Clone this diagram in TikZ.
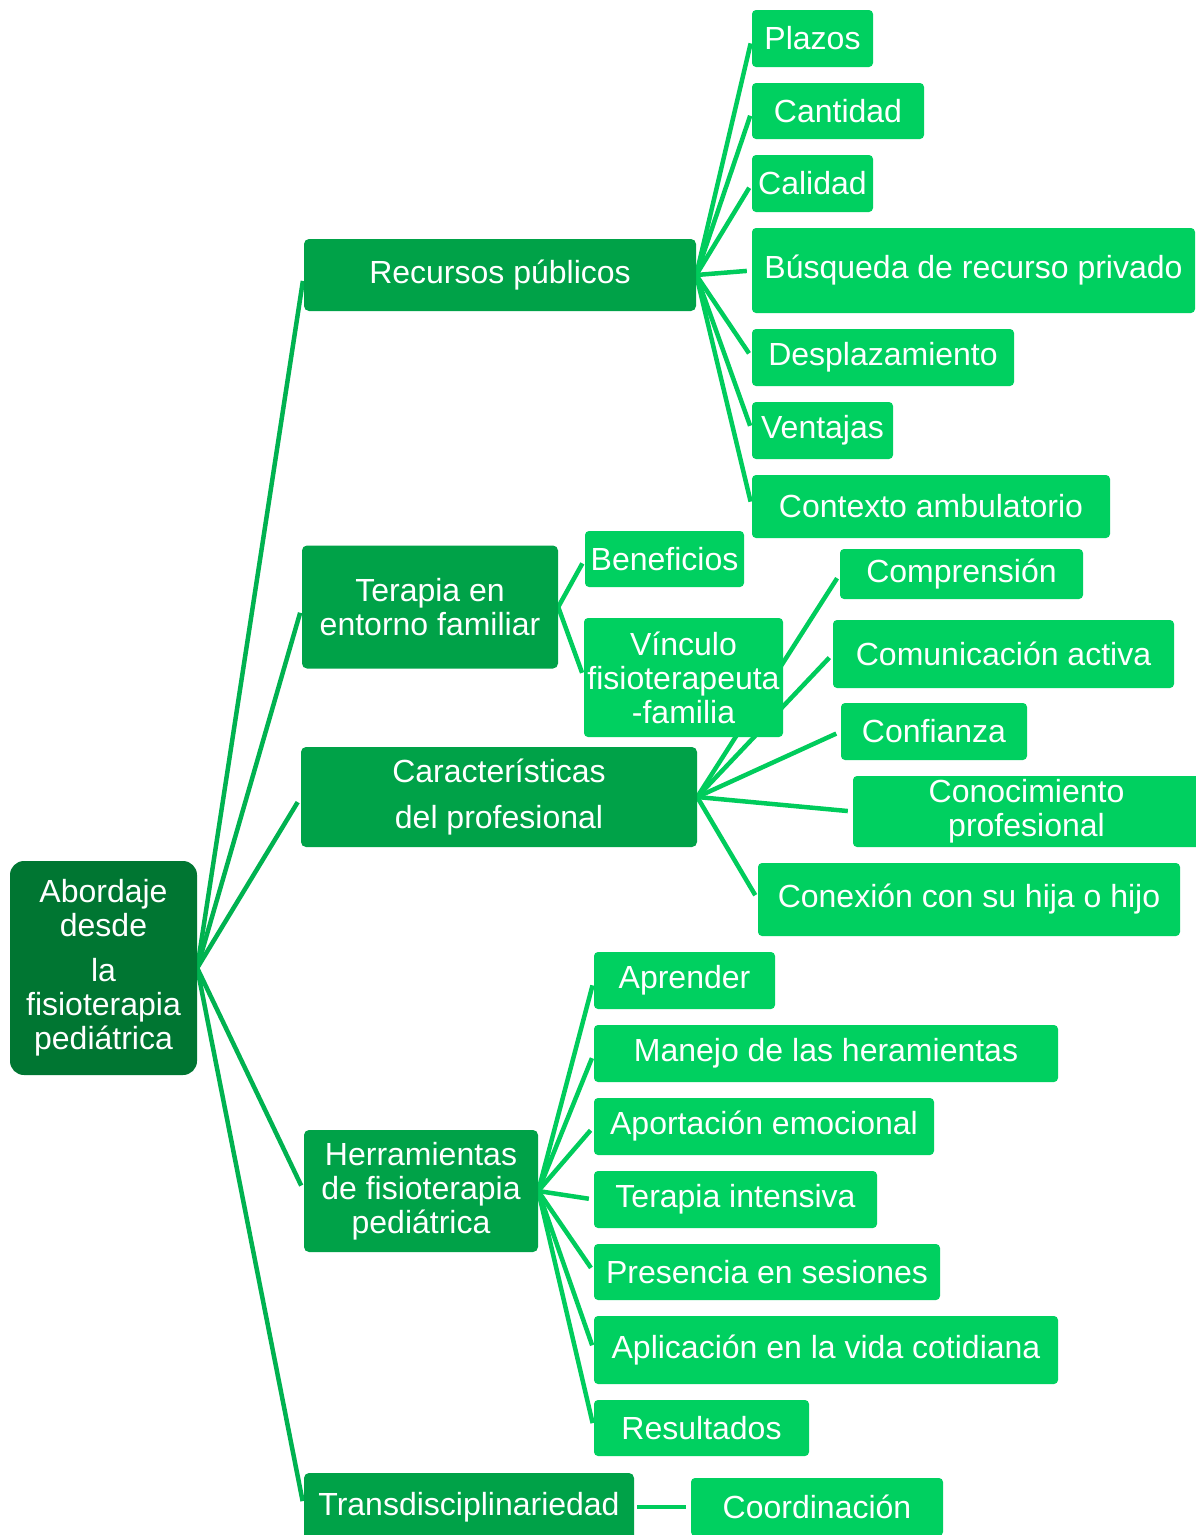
\documentclass[tikz,border=0pt]{standalone}
\usepackage{fontspec}
\setmainfont{Liberation Sans}
\usetikzlibrary{backgrounds}

\definecolor{verdeRaiz}{RGB}{0,118,50}
\definecolor{verdeTema}{RGB}{0,162,72}
\definecolor{verdeSub}{RGB}{0,208,96}
\definecolor{verdeLinea}{RGB}{0,178,80}
\definecolor{verdeRama}{RGB}{0,204,92}

\tikzset{
  raiz/.style={fill=verdeRaiz, text=white, rounded corners=14pt, align=center,
    inner sep=0pt, font=\fontsize{32}{34}\selectfont},
  tema/.style={fill=verdeTema, text=white, rounded corners=5pt, align=center,
    inner sep=0pt, font=\fontsize{32}{34}\selectfont},
  sub/.style={fill=verdeSub, text=white, rounded corners=4pt, align=center,
    inner sep=0pt, font=\fontsize{32}{34}\selectfont},
  rama/.style={draw=verdeLinea, line width=4.5pt, shorten >=6pt},
  ramita/.style={draw=verdeRama, line width=4.5pt, shorten >=5pt},
}

\begin{document}
\begin{tikzpicture}[x=1pt, y=-1pt]
  \useasboundingbox (0,0) rectangle (1195,1535);

  % --- raiz ---
  \node[raiz, minimum width=187, minimum height=214] (raiz) at (103.5,968)
    {Abordaje\\desde\\[11pt]la\\fisioterapia\\pediátrica};

  % --- temas ---
  \node[tema, minimum width=392, minimum height=72] (recursos) at (500,275) {Recursos públicos};
  \node[tema, minimum width=256, minimum height=123] (terapia) at (430,607) {Terapia en\\entorno familiar};
  \node[tema, minimum width=396, minimum height=100] (caract) at (499,797) {Características\\[12pt]del profesional};
  \node[tema, minimum width=234, minimum height=122] (herram) at (421,1191) {Herramientas\\de fisioterapia\\pediátrica};
  \node[tema, minimum width=330, minimum height=68] (transd) at (469,1507) {Transdisciplinariedad};

  % --- Recursos públicos ---
  \node[sub, minimum width=121, minimum height=57] (plazos) at (812.5,38.5) {Plazos};
  \node[sub, minimum width=172, minimum height=56] (cantidad) at (838,111) {Cantidad};
  \node[sub, minimum width=121, minimum height=57] (calidad) at (812.5,183.5) {Calidad};
  \node[sub, minimum width=443, minimum height=85] (busqueda) at (973.5,270.5) {Búsqueda de recurso privado};
  \node[sub, minimum width=262, minimum height=57] (desplaz) at (883,357.5) {Desplazamiento};
  \node[sub, minimum width=141, minimum height=57] (ventajas) at (822.5,430.5) {Ventajas};
  \node[sub, minimum width=358, minimum height=63] (contexto) at (931,506.5) {Contexto ambulatorio};

  % --- Terapia en entorno familiar ---
  \node[sub, minimum width=159, minimum height=56] (beneficios) at (664.5,559) {Beneficios};
  \node[sub, minimum width=199, minimum height=119] (vinculo) at (683.5,677.5) {Vínculo\\fisioterapeuta\\-familia};

  % --- Características del profesional ---
  \node[sub, minimum width=243, minimum height=50] (compren) at (961.5,574) {Comprensión};
  \node[sub, minimum width=341, minimum height=68] (comunic) at (1003.5,654) {Comunicación activa};
  \node[sub, minimum width=186, minimum height=57] (confianza) at (934,731.5) {Confianza};
  \node[sub, minimum width=347, minimum height=71] (conocim) at (1026.5,811.5) {Conocimiento\\profesional};
  \node[sub, minimum width=422, minimum height=73] (conexion) at (969,899.5) {Conexión con su hija o hijo};

  % --- Herramientas de fisioterapia pediátrica ---
  \node[sub, minimum width=181, minimum height=57] (aprender) at (684.5,980.5) {Aprender};
  \node[sub, minimum width=464, minimum height=57] (manejo) at (826,1053.5) {Manejo de las heramientas};
  \node[sub, minimum width=340, minimum height=57] (aportacion) at (764,1126.5) {Aportación emocional};
  \node[sub, minimum width=283, minimum height=57] (intensiva) at (735.5,1199.5) {Terapia intensiva};
  \node[sub, minimum width=346, minimum height=56] (presencia) at (767,1272) {Presencia en sesiones};
  \node[sub, minimum width=464, minimum height=68] (aplicacion) at (826,1350) {Aplicación en la vida cotidiana};
  \node[sub, minimum width=215, minimum height=56] (resultados) at (701.5,1428) {Resultados};

  % --- Transdisciplinariedad ---
  \node[sub, minimum width=252, minimum height=58] (coord) at (817,1507) {Coordinación};

  % --- ramas (detras de las cajas) ---
  \begin{scope}[on background layer]
    \draw[rama] (raiz.east) -- (recursos.west);
    \draw[rama] (raiz.east) -- (terapia.west);
    \draw[rama] (raiz.east) -- (caract.west);
    \draw[rama] (raiz.east) -- (herram.west);
    \draw[rama] (raiz.east) -- (transd.west);

    \draw[ramita] (recursos.east) -- (plazos.west);
    \draw[ramita] (recursos.east) -- (cantidad.west);
    \draw[ramita] (recursos.east) -- (calidad.west);
    \draw[ramita] (recursos.east) -- (busqueda.west);
    \draw[ramita] (recursos.east) -- (desplaz.west);
    \draw[ramita] (recursos.east) -- (ventajas.west);
    \draw[ramita] (recursos.east) -- (contexto.west);

    \draw[ramita] (terapia.east) -- (beneficios.west);
    \draw[ramita] (terapia.east) -- (vinculo.west);

    \draw[ramita] (caract.east) -- (compren.west);
    \draw[ramita] (caract.east) -- (comunic.west);
    \draw[ramita] (caract.east) -- (confianza.west);
    \draw[ramita] (caract.east) -- (conocim.west);
    \draw[ramita] (caract.east) -- (conexion.west);

    \draw[ramita] (herram.east) -- (aprender.west);
    \draw[ramita] (herram.east) -- (manejo.west);
    \draw[ramita] (herram.east) -- (aportacion.west);
    \draw[ramita] (herram.east) -- (intensiva.west);
    \draw[ramita] (herram.east) -- (presencia.west);
    \draw[ramita] (herram.east) -- (aplicacion.west);
    \draw[ramita] (herram.east) -- (resultados.west);

    \draw[ramita, shorten <=3pt] (transd.east) -- (coord.west);
  \end{scope}
\end{tikzpicture}
\end{document}
